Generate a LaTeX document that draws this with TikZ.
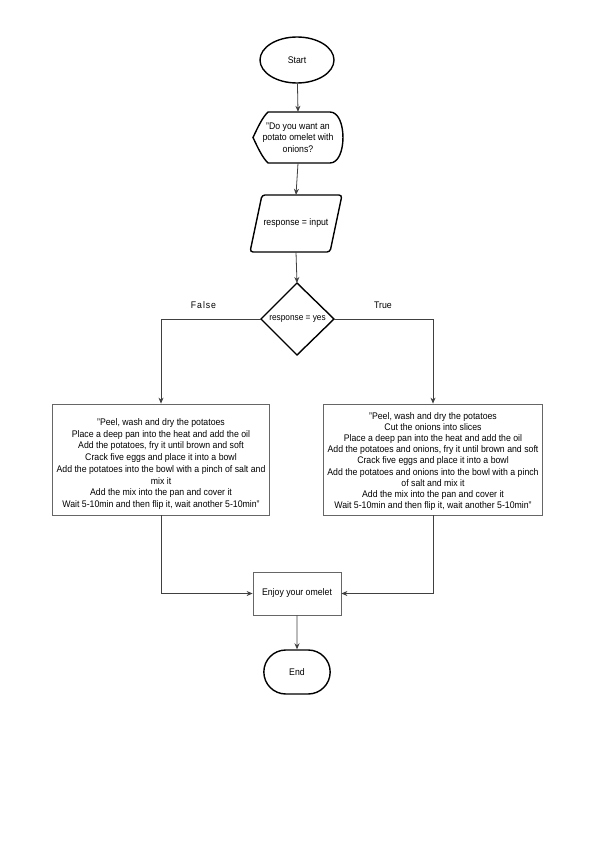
\documentclass[tikz,border=0pt]{standalone}
\usepackage{fontspec}
\setmainfont{Liberation Sans}[FakeStretch=0.91]
\usetikzlibrary{shapes.geometric,shapes.misc,arrows.meta}
\begin{document}
\begin{tikzpicture}[x=1pt,y=-1pt,
  every node/.style={font=\fontsize{9.6}{11.4}\selectfont, text=black},
  boldline/.style={draw=black, line width=1.4pt},
  procbox/.style={draw=black!60, line width=0.8pt, fill=white, inner sep=0pt},
  boxtext/.style={align=center, inner sep=0pt},
  conn/.style={draw=black!75, line width=0.8pt, -{Stealth[length=6pt,width=5pt]}},
  lbl/.style={font=\fontsize{9.6}{11}\selectfont}]
\useasboundingbox[fill=white] (0,0) rectangle (599,848);

% Start
\node[ellipse, boldline, minimum width=74pt, minimum height=46pt] (start) at (297,60) {Start};

% Question (display shape)
\node[minimum width=90pt, minimum height=51pt, inner sep=0pt, align=center] (q) at (298,137.5)
  {"Do you want an\\potato omelet with\\onions?};
\draw[boldline] (253,137.5) .. controls (258,127) and (262,118) .. (268,112) -- (330,112)
  .. controls (347.3,112) and (347.3,163) .. (330,163) -- (268,163)
  .. controls (262,157) and (258,148) .. cycle;

% Input (parallelogram)
\node[minimum width=92pt, minimum height=57pt, inner sep=0pt] (inp) at (296,223.5) {response = input};
\draw[boldline, rounded corners=3pt] (262,195) -- (342,195) -- (330,252) -- (250,252) -- cycle;

% Decision (diamond)
\node[inner sep=0pt, font=\fontsize{9.1}{11}\selectfont] (dec) at (297.5,319) {response = yes};
\coordinate (decN) at (297,283);
\coordinate (decL) at (261,319);
\coordinate (decR) at (334,319);
\draw[boldline] (decN) -- (decR) -- (297,355) -- (decL) -- cycle;

% Branch labels
\node[lbl] (lfalse) at (203.5,305) {\addfontfeatures{LetterSpace=10}False};
\node[lbl] (ltrue) at (383,305) {True};

% Process boxes
\node[procbox, minimum width=217pt, minimum height=111pt] (lbox) at (161,459.5) {};
\node[boxtext, font=\fontsize{9.6}{11.7}\selectfont] (ltext) at (161,464)
  {"Peel, wash and dry the potatoes\\
   Place a deep pan into the heat and add the oil\\
   Add the potatoes, fry it until brown and soft\\
   Crack five eggs and place it into a bowl\\
   Add the potatoes into the bowl with a pinch of salt and\\
   mix it\\
   Add the mix into the pan and cover it\\
   Wait 5-10min and then flip it, wait another 5-10min"};
\node[procbox, minimum width=219pt, minimum height=111pt] (rbox) at (433,459.5) {};
\node[boxtext, font=\fontsize{9.6}{11.1}\selectfont] (rtext) at (433,461.5)
  {"Peel, wash and dry the potatoes\\
   Cut the onions into slices\\
   Place a deep pan into the heat and add the oil\\
   Add the potatoes and onions, fry it until brown and soft\\
   Crack five eggs and place it into a bowl\\
   Add the potatoes and onions into the bowl with a pinch\\
   of salt and mix it\\
   Add the mix into the pan and cover it\\
   Wait 5-10min and then flip it, wait another 5-10min"};

% Enjoy and End
\node[procbox, minimum width=88pt, minimum height=43pt] (enjoy) at (297,593.5) {Enjoy your omelet};
\node[rounded rectangle, boldline, minimum width=73pt, minimum height=44pt] (end) at (297,672) {End};

% Connectors
\draw[conn] (start) -- (q.north);
\draw[conn] (q.south) -- (inp.north);
\draw[conn] (inp.south) -- (decN);
\draw[conn] (decL) -| (lbox.north);
\draw[conn] (decR) -| (rbox.north);
\draw[conn] (lbox.south) |- (enjoy.west);
\draw[conn] (rbox.south) |- (enjoy.east);
\draw[conn] (enjoy) -- (end);
\end{tikzpicture}
\end{document}
